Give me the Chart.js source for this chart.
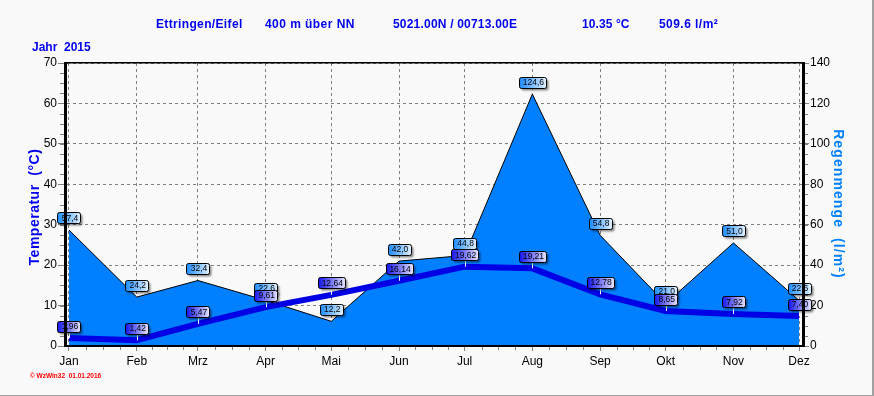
<!DOCTYPE html>
<html>
<head>
<meta charset="utf-8">
<title>Ettringen/Eifel 2015</title>
<style>
    html, body { margin: 0; padding: 0; background: #f9f9f9; }
    canvas { display: block; }
</style>
<script src="https://cdn.jsdelivr.net/npm/chart.js@4/dist/chart.umd.min.js"></script>
</head>
<body>
<canvas id="climateChart" width="874" height="396"></canvas>
<script>
    const months = ['Jan', 'Feb', 'Mrz', 'Apr', 'Mai', 'Jun', 'Jul', 'Aug', 'Sep', 'Okt', 'Nov', 'Dez'];
    // first day of each month, counted from 1 January
    const monthDays = [0, 31, 59, 90, 120, 151, 181, 212, 243, 273, 304, 334];
    const rain = [57.4, 24.2, 32.4, 22.6, 12.2, 42.0, 44.8, 124.6, 54.8, 21.0, 51.0, 22.6];
    const temperature = [1.96, 1.42, 5.47, 9.61, 12.64, 16.14, 19.62, 19.21, 12.78, 8.65, 7.92, 7.40];

    const FONT = '"Liberation Sans", Arial, sans-serif';
    const BLUE = '#0000ee';
    const RAIN_BLUE = '#0080ff';
    const TICK_GRAY = '#808080';

    function toPoints(values) {
        return values.map((v, i) => ({ x: monthDays[i], y: v }));
    }

    function spacedText(ctx, text, x, y, font, color, spacing) {
        ctx.save();
        ctx.font = font;
        ctx.fillStyle = color;
        ctx.letterSpacing = spacing || '0px';
        ctx.textBaseline = 'middle';
        ctx.fillText(text, x, y);
        ctx.restore();
    }

    function rotatedText(ctx, text, x, y, angle, font, color, spacing) {
        ctx.save();
        ctx.translate(x, y);
        ctx.rotate(angle);
        ctx.textAlign = 'center';
        spacedText(ctx, text, 0, 0, font, color, spacing);
        ctx.restore();
    }

    function drawTag(ctx, text, cx, cy, color, endColor, stemTo) {
        ctx.save();
        ctx.font = '8.5px ' + FONT;
        const w = Math.round(ctx.measureText(text).width) + 6;
        const h = 11;
        const x = Math.round(cx - w / 2) + 0.5;
        const y = Math.round(cy - h / 2) + 0.5;

        if (stemTo !== undefined) {
            ctx.strokeStyle = '#ffffff';
            ctx.lineWidth = 1;
            ctx.beginPath();
            ctx.moveTo(Math.round(cx) + 0.5, y + h);
            ctx.lineTo(Math.round(cx) + 0.5, stemTo);
            ctx.stroke();
        }

        const gradient = ctx.createLinearGradient(x, 0, x + w, 0);
        gradient.addColorStop(0, color);
        gradient.addColorStop(1, endColor);

        ctx.save();
        ctx.shadowColor = 'rgba(0, 0, 0, 0.45)';
        ctx.shadowOffsetX = 2;
        ctx.shadowOffsetY = 2;
        ctx.shadowBlur = 2;
        ctx.fillStyle = gradient;
        ctx.beginPath();
        ctx.roundRect(x, y, w, h, 2);
        ctx.fill();
        ctx.restore();

        ctx.strokeStyle = '#000000';
        ctx.lineWidth = 1;
        ctx.beginPath();
        ctx.roundRect(x, y, w, h, 2);
        ctx.stroke();

        ctx.fillStyle = '#000000';
        ctx.textAlign = 'center';
        ctx.textBaseline = 'middle';
        ctx.fillText(text, cx + 1, cy + 0.5);
        ctx.restore();
    }

    const backgroundPlugin = {
        id: 'pageBackground',
        beforeDraw(chart) {
            const ctx = chart.ctx;
            ctx.save();
            ctx.fillStyle = '#f9f9f9';
            ctx.fillRect(0, 0, chart.width, chart.height);
            ctx.fillStyle = '#a0a0a0';
            ctx.fillRect(chart.width - 2, 0, 2, chart.height);
            ctx.fillRect(0, chart.height - 1, chart.width, 1);
            ctx.restore();
        }
    };

    const decorationPlugin = {
        id: 'decoration',
        afterDatasetsDraw(chart) {
            const ctx = chart.ctx;
            const { left, right, top, bottom } = chart.chartArea;
            const { x, yTemp, yRain } = chart.scales;

            // top frame line
            ctx.save();
            ctx.fillStyle = '#000000';
            ctx.fillRect(left, top - 1, right - left, 1.5);

            // minor ticks
            ctx.strokeStyle = TICK_GRAY;
            ctx.lineWidth = 1;
            ctx.beginPath();
            for (let v = 0; v < 70; v += 2.5) {
                const py = Math.round(yTemp.getPixelForValue(v)) + 0.5;
                ctx.moveTo(left - 5, py);
                ctx.lineTo(left - 1, py);
                ctx.moveTo(right + 1, py);
                ctx.lineTo(right + 5, py);
            }
            for (let i = 0; i < monthDays.length - 1; i++) {
                const step = (monthDays[i + 1] - monthDays[i]) / 4;
                for (let k = 1; k < 4; k++) {
                    const px = Math.round(x.getPixelForValue(monthDays[i] + k * step)) + 0.5;
                    ctx.moveTo(px, bottom + 1);
                    ctx.lineTo(px, bottom + 4);
                }
            }
            ctx.stroke();
            ctx.restore();

            // value tags: rain first, temperature above it
            rain.forEach((v, i) => {
                const cx = x.getPixelForValue(monthDays[i]);
                const cy = yRain.getPixelForValue(v) - 12;
                drawTag(ctx, v.toFixed(1).replace('.', ','), cx, cy, '#1c8cff', '#e4f2ff');
            });
            temperature.forEach((v, i) => {
                const cx = x.getPixelForValue(monthDays[i]);
                const py = yTemp.getPixelForValue(v);
                drawTag(ctx, v.toFixed(2).replace('.', ','), cx, py - 12, '#1414f0', '#e4e4ff', py);
            });

            // header and axis titles
            const bold = 'bold 12px ' + FONT;
            spacedText(ctx, 'Ettringen/Eifel', 156, 25, bold, BLUE, '0.35px');
            spacedText(ctx, '400 m über NN', 265, 25, bold, BLUE, '0.45px');
            spacedText(ctx, '5021.00N / 00713.00E', 393, 25, bold, BLUE, '0.2px');
            spacedText(ctx, '10.35 °C', 582, 25, bold, BLUE, '0.1px');
            spacedText(ctx, '509.6 l/m²', 659, 25, bold, BLUE, '0.45px');
            spacedText(ctx, 'Jahr  2015', 32, 48, bold, BLUE);
            spacedText(ctx, '© WzWin32  01.01.2016', 30, 376, 'bold 6.5px ' + FONT, '#ff0000');
            rotatedText(ctx, 'Temperatur  (°C)', 35, 207, -Math.PI / 2, 'bold 14px ' + FONT, BLUE, '0.5px');
            rotatedText(ctx, 'Regenmenge  (l/m²)', 838, 204, Math.PI / 2, 'bold 14px ' + FONT, RAIN_BLUE, '1.1px');
        }
    };

    new Chart(document.getElementById('climateChart'), {
        type: 'line',
        data: {
            datasets: [
                {
                    label: 'Temperatur',
                    data: toPoints(temperature),
                    yAxisID: 'yTemp',
                    borderColor: '#0000e6',
                    borderWidth: 6,
                    pointRadius: 0,
                    tension: 0,
                    fill: false,
                    order: 1
                },
                {
                    label: 'Regenmenge',
                    data: toPoints(rain),
                    yAxisID: 'yRain',
                    borderColor: '#000000',
                    borderWidth: 1,
                    backgroundColor: RAIN_BLUE,
                    pointRadius: 0,
                    tension: 0,
                    fill: 'origin',
                    order: 2
                }
            ]
        },
        options: {
            responsive: false,
            animation: false,
            layout: { padding: { top: 63 } },
            plugins: {
                legend: { display: false },
                title: { display: false },
                tooltip: { enabled: false }
            },
            scales: {
                x: {
                    type: 'linear',
                    min: -1.83,
                    max: 335.83,
                    afterBuildTicks(scale) {
                        scale.ticks = monthDays.map(v => ({ value: v }));
                    },
                    afterFit(scale) { scale.height = 50; },
                    grid: {
                        color: TICK_GRAY,
                        lineWidth: 1,
                        tickColor: TICK_GRAY,
                        tickBorderDash: [],
                        tickLength: 5
                    },
                    border: { color: '#000000', width: 2, z: 1, dash: [3, 3] },
                    ticks: {
                        color: '#000000',
                        font: { family: FONT, size: 12 },
                        padding: 3,
                        maxRotation: 0,
                        autoSkip: false,
                        callback(value) {
                            return months[monthDays.indexOf(value)];
                        }
                    }
                },
                yTemp: {
                    position: 'left',
                    min: 0,
                    max: 70,
                    afterFit(scale) { scale.width = 65; },
                    grid: {
                        color: TICK_GRAY,
                        lineWidth: 1,
                        tickColor: TICK_GRAY,
                        tickBorderDash: [],
                        tickLength: 7
                    },
                    border: { color: '#000000', width: 3, z: 1, dash: [3, 3] },
                    ticks: {
                        stepSize: 10,
                        color: '#000000',
                        font: { family: FONT, size: 12 },
                        padding: 1
                    }
                },
                yRain: {
                    position: 'right',
                    min: 0,
                    max: 140,
                    afterFit(scale) { scale.width = 71; },
                    grid: {
                        drawOnChartArea: false,
                        tickColor: TICK_GRAY,
                        tickLength: 6
                    },
                    border: { color: '#000000', width: 3, z: 1 },
                    ticks: {
                        stepSize: 20,
                        color: '#000000',
                        font: { family: FONT, size: 12 },
                        padding: 1
                    }
                }
            }
        },
        plugins: [backgroundPlugin, decorationPlugin]
    });
</script>
</body>
</html>
